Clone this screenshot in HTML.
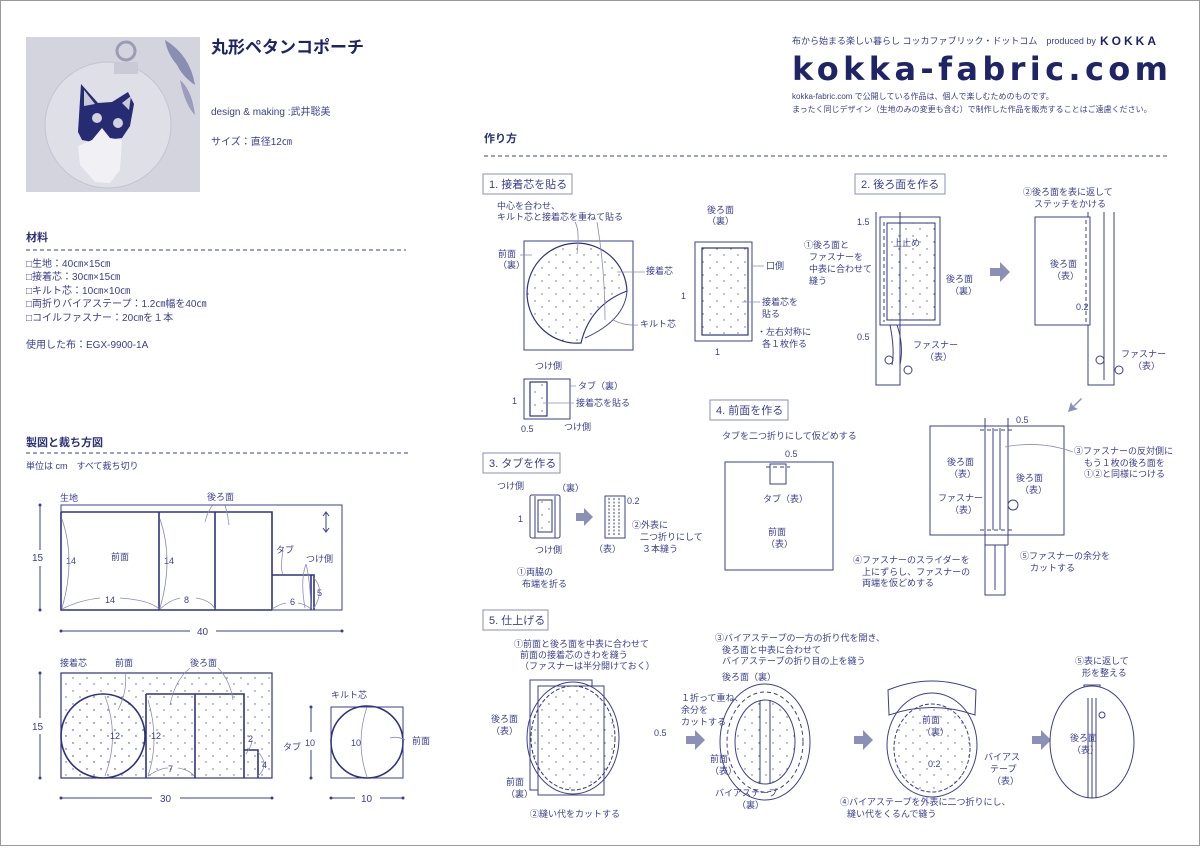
<!DOCTYPE html>
<html><head><meta charset="utf-8"><style>
html,body{margin:0;padding:0;background:#fff}
svg{display:block}
text{font-family:"Liberation Sans","Noto Sans CJK JP",sans-serif;fill:#3a3f8c;font-size:9px}
.h{font-weight:bold;font-size:11px;fill:#2a2f78}
.b{fill:none;stroke:#2e3380;stroke-width:1.6}
.t{fill:none;stroke:#3a3f8c;stroke-width:1}
.l{fill:none;stroke:#8a8db8;stroke-width:0.8}
.d{fill:none;stroke:#3a3f8c;stroke-width:1;stroke-dasharray:4 3}
.box{fill:#fff;stroke:#8a8db8;stroke-width:1}
.bt{font-size:11px;fill:#3a3f8c}
.arr{fill:#8a90b8}
</style></head><body>
<svg width="1200" height="848" viewBox="0 0 1200 848" xmlns="http://www.w3.org/2000/svg">
<defs>
<pattern id="dots" width="14" height="13" patternUnits="userSpaceOnUse">
<circle cx="3" cy="2" r="0.7" fill="#5a5f9c"/><circle cx="10" cy="8" r="0.7" fill="#5a5f9c"/>
</pattern>
</defs>
<rect x="0.5" y="0.5" width="1199" height="845" fill="#fff" stroke="#9a9a9a"/>

<!-- photo -->
<rect x="26" y="37" width="174" height="155" fill="#d3d4de"/>
<path d="M165 40 q25 15 30 45 q-12 -8 -18 -20 q-10 -12 -12 -25z" fill="#8a8eb0"/>
<path d="M180 80 q12 10 15 35 q-10 -10 -15 -35z" fill="#9a9dbb"/>
<circle cx="108" cy="125" r="63" fill="#dedfe7" stroke="#c2c4d2"/>
<circle cx="126" cy="51" r="9" fill="none" stroke="#9a9db4" stroke-width="3"/>
<rect x="114" y="62" width="24" height="12" fill="#c8cad6"/>
<path d="M78 132 L81 84 L98 103 L112 102 L128 92 L134 104 L130 126 L122 138 L106 140 L92 142 L82 140z" fill="#262b72"/>
<path d="M84 90 L95 104 L84 106z" fill="#c9cad8"/>
<path d="M122 103 L131 96 L129 110z" fill="#c9cad8"/>
<circle cx="97" cy="118" r="5" fill="#d0d2de"/><circle cx="118" cy="123" r="5" fill="#d0d2de"/>
<path d="M92 140 L102 128 L110 138 L122 140 L120 170 L110 183 L95 182 L80 165 L78 146z" fill="#f0f0f5"/>

<text x="211" y="53" style="font-size:17px;font-weight:bold;fill:#1e2466">丸形ペタンコポーチ</text>
<text x="211" y="115" style="font-size:10px">design &amp; making :武井聡美</text>
<text x="211" y="145" style="font-size:10px">サイズ：直径12㎝</text>

<text x="26" y="241" class="h">材料</text>
<line x1="26" y1="250" x2="406" y2="250" class="d"/>
<text x="26" y="267" style="font-size:10px">□生地：40㎝×15㎝</text>
<text x="26" y="280" style="font-size:10px">□接着芯：30㎝×15㎝</text>
<text x="26" y="294" style="font-size:10px">□キルト芯：10㎝×10㎝</text>
<text x="26" y="307" style="font-size:10px">□両折りバイアステープ：1.2㎝幅を40㎝</text>
<text x="26" y="321" style="font-size:10px">□コイルファスナー：20㎝を１本</text>
<text x="26" y="348" style="font-size:10px">使用した布：EGX-9900-1A</text>

<text x="26" y="446" class="h">製図と裁ち方図</text>
<line x1="26" y1="453" x2="408" y2="453" class="d"/>
<text x="26" y="469" style="font-size:9px">単位は cm　すべて裁ち切り</text>

<!-- fabric layout -->
<text x="60" y="501">生地</text><text x="207" y="500">後ろ面</text>
<rect x="61" y="505" width="281" height="105" class="t"/>
<path d="M61 512 H272 V610 M61 512 V610 H272 M159 512 V610 M215 512 V610 M272 575 H314 V610 M311 575 V610" class="b"/>
<path d="M205 522 Q208 510 213 505 M225 505 Q228 515 229 525" class="l"/>
<text x="111" y="560">前面</text>
<text x="66" y="564">14</text><text x="164" y="564">14</text>
<text x="105" y="603">14</text><text x="184" y="603">8</text><text x="290" y="605">6</text><text x="317" y="596">5</text>
<text x="276" y="553">タブ</text><text x="306" y="562">つけ側</text>
<path d="M62 519 Q76 560 62 608 M160 519 Q174 560 160 608 M62 609 Q80 600 100 598 M120 598 Q150 600 159 609 M160 609 Q170 600 180 598 M196 598 Q210 600 215 609 M272 609 Q280 604 286 603 M298 603 Q305 604 311 609 M314 578 Q325 590 314 608 M306 564 Q300 580 305 608 M306 564 Q310 580 311 608" class="l"/>
<path d="M283 574 Q280 570 283 550" class="l"/>
<path d="M326 513 V531 M323 516 L326 512 L329 516 M323 528 L326 532 L329 528" class="t"/>
<text x="32" y="561" style="font-size:10px">15</text>
<path d="M40 505 V550 M40 566 V610" class="t"/><circle cx="40" cy="505" r="1.5" fill="#3a3f8c"/><circle cx="40" cy="610" r="1.5" fill="#3a3f8c"/>
<path d="M61 631 H190 M216 631 H342" class="t"/><circle cx="61" cy="631" r="1.5" fill="#3a3f8c"/><circle cx="342" cy="631" r="1.5" fill="#3a3f8c"/>
<text x="197" y="635" style="font-size:10px">40</text>

<!-- interfacing -->
<text x="60" y="666">接着芯</text><text x="115" y="666">前面</text><text x="190" y="666">後ろ面</text>
<rect x="61" y="673" width="211" height="105" fill="url(#dots)" stroke="#2e3380" stroke-width="1.2"/>
<circle cx="103" cy="736" r="42" fill="url(#dots)" stroke="#2e3380" stroke-width="1.6"/>
<path d="M146 694 H244 V778 M146 694 V778 M195 694 V778 M244 750 H258 V778" class="b"/>
<path d="M105 696 Q120 736 105 776 M118 710 Q128 690 125 672 M170 705 Q175 680 190 668 M233 700 Q230 680 218 668 M148 700 Q160 740 148 776 M148 776 Q160 768 168 768 M178 768 Q190 770 194 776 M246 754 Q252 745 252 740 M258 752 Q270 765 258 776" class="l"/>
<text x="110" y="739">12</text><text x="151" y="739">12</text><text x="168" y="772">7</text><text x="248" y="742">2</text><text x="262" y="768">4</text>
<text x="32" y="730" style="font-size:10px">15</text>
<path d="M40 673 V718 M40 734 V778" class="t"/><circle cx="40" cy="673" r="1.5" fill="#3a3f8c"/><circle cx="40" cy="778" r="1.5" fill="#3a3f8c"/>
<path d="M61 798 H152 M180 798 H272" class="t"/><circle cx="61" cy="798" r="1.5" fill="#3a3f8c"/><circle cx="272" cy="798" r="1.5" fill="#3a3f8c"/>
<text x="160" y="802" style="font-size:10px">30</text>
<text x="283" y="750">タブ</text>
<text x="331" y="698">キルト芯</text>
<rect x="331" y="707" width="72" height="71" class="t"/>
<circle cx="367" cy="742" r="36" class="b"/>
<path d="M367 707 Q355 742 367 777" class="l"/><path d="M390 738 Q398 736 405 740" class="l"/>
<text x="351" y="746">10</text><text x="412" y="744">前面</text>
<text x="305" y="746">10</text>
<path d="M311 707 V732 M311 750 V778" class="t"/><circle cx="311" cy="707" r="1.5" fill="#3a3f8c"/><circle cx="311" cy="778" r="1.5" fill="#3a3f8c"/>
<path d="M331 798 H355 M380 798 H403" class="t"/><circle cx="331" cy="798" r="1.5" fill="#3a3f8c"/><circle cx="403" cy="798" r="1.5" fill="#3a3f8c"/>
<text x="361" y="802" style="font-size:10px">10</text>

<!-- right header -->
<text x="792" y="44" style="font-size:9px">布から始まる楽しい暮らし コッカファブリック・ドットコム　produced by</text>
<text x="1100" y="45" style="font-size:12px;font-weight:bold;letter-spacing:3px;fill:#1e2466">KOKKA</text>
<text x="792" y="80" textLength="376" lengthAdjust="spacing" style="font-size:32px;font-family:'DejaVu Sans',sans-serif;font-weight:bold;fill:#1e2466">kokka-fabric.com</text>
<text x="792" y="99" style="font-size:8px">kokka-fabric.com で公開している作品は、個人で楽しむためのものです。</text>
<text x="792" y="112" style="font-size:8px">まったく同じデザイン（生地のみの変更も含む）で制作した作品を販売することはご遠慮ください。</text>

<text x="484" y="142" class="h">作り方</text>
<line x1="484" y1="156" x2="1170" y2="156" class="d"/>

<rect x="483" y="174" width="89" height="20" class="box"/><text x="489" y="188" class="bt">1. 接着芯を貼る</text>
<rect x="855" y="174" width="90" height="20" class="box"/><text x="861" y="188" class="bt">2. 後ろ面を作る</text>
<rect x="483" y="453" width="77" height="20" class="box"/><text x="489" y="467" class="bt">3. タブを作る</text>
<rect x="710" y="400" width="78" height="20" class="box"/><text x="716" y="414" class="bt">4. 前面を作る</text>
<rect x="483" y="610" width="65" height="20" class="box"/><text x="489" y="624" class="bt">5. 仕上げる</text>

<!-- step1 -->
<text x="497" y="209">中心を合わせ、</text><text x="497" y="220">キルト芯と接着芯を重ねて貼る</text>
<rect x="524" y="241" width="109" height="109" class="t"/>
<path d="M627 291 A50 50 0 1 0 581 343 Q590 305 627 291z" fill="url(#dots)" stroke="#2e3380" stroke-width="1.2"/>
<path d="M627 291 Q625 320 585 338" class="t"/>
<path d="M577 254 Q580 230 575 222 M605 320 Q605 270 597 222" class="l"/>
<text x="498" y="257">前面</text><text x="498" y="268">（裏）</text>
<path d="M520 255 H532" class="l"/>
<text x="646" y="274">接着芯</text><path d="M617 272 H645" class="l"/>
<text x="640" y="327">キルト芯</text><path d="M613 320 Q625 326 638 325" class="l"/>

<text x="707" y="213">後ろ面</text><text x="707" y="224">（裏）</text>
<rect x="695" y="242" width="57" height="99" class="t"/>
<rect x="702" y="248" width="46" height="87" fill="url(#dots)" stroke="#2e3380" stroke-width="1.2"/>
<path d="M752 266 H764 M742 302 H760" class="l"/>
<text x="766" y="269">口側</text><text x="762" y="305">接着芯を</text><text x="762" y="317">貼る</text>
<text x="757" y="335">・左右対称に</text><text x="762" y="347">各１枚作る</text>
<text x="681" y="299">1</text><text x="715" y="355">1</text>

<text x="535" y="369">つけ側</text>
<rect x="524" y="379" width="46" height="40" class="t"/>
<rect x="530" y="382" width="17" height="34" fill="url(#dots)" stroke="#2e3380" stroke-width="1.2"/>
<path d="M570 386 H576 M543 403 H574" class="l"/>
<text x="578" y="389">タブ（裏）</text><text x="576" y="406">接着芯を貼る</text>
<text x="512" y="404">1</text><text x="521" y="432">0.5</text><text x="564" y="430">つけ側</text>

<!-- step3 -->
<text x="497" y="489">つけ側</text><text x="557" y="491">（裏）</text>
<rect x="530" y="495" width="30" height="43" rx="2" class="t"/>
<rect x="538" y="500" width="14" height="32" fill="url(#dots)" stroke="#2e3380"/>
<path d="M535 496 V538 M555 496 V538" class="t"/>
<text x="518" y="522">1</text><text x="535" y="553">つけ側</text>
<text x="517" y="575">①両脇の</text><text x="522" y="587">布端を折る</text>
<path d="M576 513 h8 v-5 l9 9 l-9 9 v-5 h-8z" class="arr"/>
<rect x="605" y="496" width="20" height="42" class="t"/>
<path d="M609 498 V536 M614 498 V536 M619 498 V536" stroke="#3a3f8c" stroke-dasharray="2 1.5"/>
<text x="627" y="504">0.2</text><text x="632" y="528">②外表に</text><text x="640" y="540">二つ折りにして</text><text x="642" y="552">３本縫う</text>
<text x="594" y="552">（表）</text>

<!-- step4 -->
<text x="722" y="439">タブを二つ折りにして仮どめする</text>
<text x="785" y="457">0.5</text>
<rect x="725" y="462" width="108" height="108" class="t"/>
<rect x="770" y="464" width="16" height="20" class="t"/>
<path d="M766 467 H790" class="d"/>
<text x="763" y="502">タブ（表）</text>
<text x="768" y="535">前面</text><text x="766" y="547">（表）</text>

<!-- step2 -->
<text x="857" y="225">1.5</text>
<text x="804" y="248">①後ろ面と</text><text x="809" y="260">ファスナーを</text><text x="809" y="272">中表に合わせて</text><text x="809" y="284">縫う</text>
<path d="M876 212 V385 H900 V212 M880 217 H940 V325 H880z" class="t"/>
<rect x="887" y="223" width="48" height="97" fill="url(#dots)" stroke="#2e3380"/>
<path d="M884 222 V322" class="d"/>
<path d="M890 325 Q895 350 892 365 M897 325 Q904 345 900 365" class="t"/>
<circle cx="889" cy="360" r="4" class="t"/><circle cx="908" cy="370" r="4" class="t"/>
<text x="893" y="246">上止め</text>
<text x="946" y="282">後ろ面</text><text x="950" y="294">（裏）</text>
<text x="857" y="340">0.5</text>
<text x="913" y="348">ファスナー</text><text x="925" y="360">（表）</text>
<path d="M990 268 h10 v-6 l10 10 l-10 10 v-6 h-10z" class="arr"/>
<text x="1023" y="195">②後ろ面を表に返して</text><text x="1034" y="207">ステッチをかける</text>
<path d="M1088 212 V385 H1114 V212 M1104 212 V380" class="t"/>
<rect x="1035" y="217" width="55" height="108" fill="#fff" stroke="#3a3f8c"/>
<path d="M1086 220 V325" class="d"/>
<circle cx="1100" cy="360" r="4" class="t"/><circle cx="1119" cy="370" r="4" class="t"/>
<text x="1050" y="267">後ろ面</text><text x="1052" y="279">（表）</text>
<text x="1076" y="310">0.2</text>
<text x="1121" y="357">ファスナー</text><text x="1133" y="369">（表）</text>
<path d="M1081 398 l-8 8 l-2 -4 l-3 10 l10 -3 l-4 -2 l8 -8z" class="arr"/>
<text x="1016" y="423">0.5</text>
<path d="M985 418 V545 M1008 418 V545 M985 545 H1008" class="t"/>
<rect x="930" y="426" width="134" height="109" fill="none" stroke="#3a3f8c"/>
<path d="M993 428 V530 M1000 428 V530" class="t"/>
<path d="M980 430 H1015 M980 530 H1015" class="d"/>
<rect x="985" y="545" width="20" height="50" class="t"/><path d="M995 545 V590" class="t"/>
<circle cx="1013" cy="505" r="5" class="t"/>
<text x="947" y="465">後ろ面</text><text x="949" y="477">（表）</text>
<text x="1016" y="481">後ろ面</text><text x="1020" y="493">（表）</text>
<text x="938" y="501">ファスナー</text><text x="950" y="513">（表）</text>
<text x="1074" y="454">③ファスナーの反対側に</text><text x="1084" y="466">もう１枚の後ろ面を</text><text x="1084" y="477">①②と同様につける</text>
<path d="M1005 447 Q1040 440 1073 452" class="l"/>
<text x="853" y="563">④ファスナーのスライダーを</text><text x="862" y="575">上にずらし、ファスナーの</text><text x="862" y="586">両端を仮どめする</text>
<text x="1020" y="559">⑤ファスナーの余分を</text><text x="1030" y="571">カットする</text>

<!-- step5 -->
<text x="514" y="647">①前面と後ろ面を中表に合わせて</text><text x="520" y="658">前面の接着芯のきわを縫う</text><text x="520" y="669">（ファスナーは半分開けておく）</text>
<rect x="530" y="680" width="62" height="110" fill="#fff" stroke="#3a3f8c"/>
<path d="M538 686 H604 V795 H538z" fill="#fff" stroke="#3a3f8c"/>
<ellipse cx="573" cy="738" rx="46" ry="56" class="t"/>
<ellipse cx="573" cy="738" rx="42" ry="52" fill="url(#dots)" stroke="#2e3380" stroke-dasharray="4 2"/>
<text x="491" y="722">後ろ面</text><text x="491" y="734">（表）</text>
<text x="506" y="785">前面</text><text x="506" y="797">（裏）</text>
<text x="654" y="736">0.5</text>
<text x="530" y="817">②縫い代をカットする</text>
<path d="M686 736 h9 v-6 l10 10 l-10 10 v-6 h-9z" class="arr"/>
<text x="715" y="641">③バイアステープの一方の折り代を開き、</text><text x="722" y="653">後ろ面と中表に合わせて</text><text x="722" y="664">バイアステープの折り目の上を縫う</text>
<text x="722" y="680">後ろ面（裏）</text>
<text x="681" y="701">１折って重ね、</text><text x="681" y="713">余分を</text><text x="681" y="725">カットする</text>
<ellipse cx="765" cy="742" rx="45" ry="58" class="t"/>
<ellipse cx="765" cy="742" rx="38" ry="50" class="d"/>
<ellipse cx="765" cy="742" rx="30" ry="42" fill="url(#dots)" stroke="#3a3f8c"/>
<path d="M760 700 V784 M770 700 V784" class="t"/>
<text x="710" y="762">前面</text><text x="710" y="774">（表）</text>
<text x="715" y="796">バイアステープ</text><text x="737" y="808">（裏）</text>
<path d="M854 736 h9 v-6 l10 10 l-10 10 v-6 h-9z" class="arr"/>
<path d="M888 690 Q932 672 976 690 L975 715 Q932 700 889 715z" class="t"/>
<ellipse cx="932" cy="745" rx="45" ry="52" class="t"/>
<ellipse cx="932" cy="748" rx="38" ry="44" fill="url(#dots)" stroke="#3a3f8c" stroke-dasharray="4 2"/>
<text x="922" y="723">前面</text><text x="922" y="735">（裏）</text>
<text x="928" y="767">0.2</text>
<text x="984" y="760">バイアス</text><text x="990" y="772">テープ</text><text x="992" y="784">（表）</text>
<text x="840" y="805">④バイアステープを外表に二つ折りにし、</text><text x="847" y="817">縫い代をくるんで縫う</text>
<path d="M1032 736 h9 v-6 l10 10 l-10 10 v-6 h-9z" class="arr"/>
<text x="1075" y="664">⑤表に返して</text><text x="1082" y="676">形を整える</text>
<rect x="1084" y="685" width="16" height="14" class="t"/>
<ellipse cx="1092" cy="742" rx="42" ry="56" fill="#fff" stroke="#3a3f8c"/>
<path d="M1088 698 V798 M1092 698 V798 M1096 698 V798" class="t"/>
<circle cx="1102" cy="715" r="3" class="t"/>
<text x="1070" y="741">後ろ面</text><text x="1072" y="753">（表）</text>
</svg>
</body></html>
